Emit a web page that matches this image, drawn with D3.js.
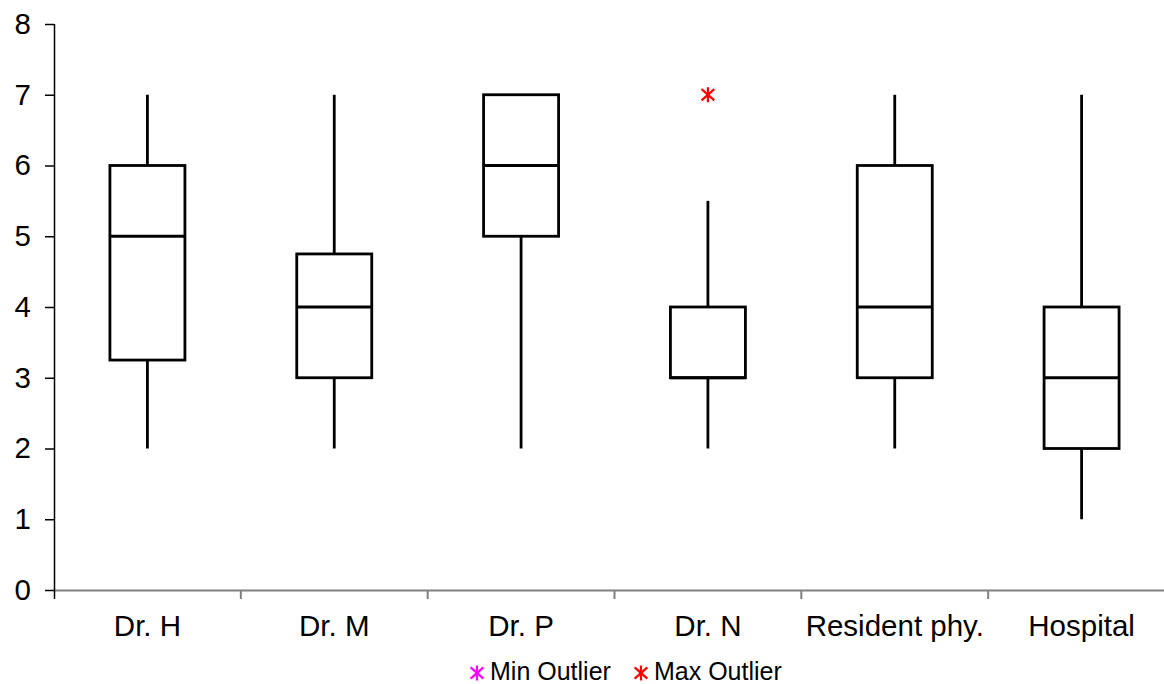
<!DOCTYPE html>
<html>
<head>
<meta charset="utf-8">
<script src="https://cdn.jsdelivr.net/npm/d3@7"></script>
<style>
  html, body { margin: 0; padding: 0; background: #fff; }
  svg { display: block; font-family: "Liberation Sans", Arial, sans-serif; }
</style>
</head>
<body>
<svg id="chart" width="1164" height="684"></svg>
<script>
// Rating distributions per evaluator (box plot five-number summaries)
const categories = ["Dr. H", "Dr. M", "Dr. P", "Dr. N", "Resident phy.", "Hospital"];
const minValues    = [2, 2, 2, 2, 2, 1];
const q1Values     = [3.25, 3, 5, 3, 3, 2];
const medianValues = [5, 4, 6, 3, 4, 3];
const q3Values     = [6, 4.75, 7, 4, 6, 4];
const maxValues    = [7, 7, 7, 5.5, 7, 7];
// Outliers: [category, value]
const maxOutliers = [["Dr. N", 7]];
const minOutliers = [];
const yTicks = [0, 1, 2, 3, 4, 5, 6, 7, 8];
const legendLabels = ["Min Outlier", "Max Outlier"];
const legendColors = ["#ff00ff", "#ff0000"];

const svg = d3.select("#chart");
const plotLeft = 54, plotRight = 1175, plotTop = 24, plotBottom = 590;

const x = d3.scaleBand().domain(categories).range([plotLeft, plotRight]);
const y = d3.scaleLinear().domain([0, 8]).range([plotBottom, plotTop]);

// X axis (gray) with ticks between categories
const xAxis = d3.axisBottom(x).tickSize(0).tickFormat(d => d);
const gx = svg.append("g").attr("transform", `translate(0,${plotBottom})`).call(xAxis);
gx.select(".domain").attr("stroke", "#808080").attr("stroke-width", 2)
  .attr("d", `M${plotLeft},0.5H1164`);
gx.selectAll(".tick text").attr("font-size", 29.5).attr("fill", "#000")
  .attr("dy", 0).attr("y", 46).attr("font-family", "Liberation Sans, Arial, sans-serif");
const bounds = categories.slice(1).map(c => x(c)).concat([plotRight]);
gx.selectAll(".sep").data(bounds).join("line")
  .attr("x1", d => d).attr("x2", d => d).attr("y1", 0).attr("y2", 9)
  .attr("stroke", "#808080").attr("stroke-width", 2);

// Y axis (black)
const yAxis = d3.axisLeft(y).tickValues(yTicks).tickSize(9).tickPadding(14).tickFormat(d3.format("d"));
const gy = svg.append("g").attr("transform", `translate(${plotLeft},0)`).call(yAxis);
gy.select(".domain").attr("stroke", "#000").attr("stroke-width", 1.5)
  .attr("d", `M0.5,${plotTop}V${plotBottom + 9}`);
gy.selectAll(".tick line").attr("stroke", "#000").attr("stroke-width", 1.5);
gy.selectAll(".tick text").attr("font-size", 29.5).attr("fill", "#000")
  .attr("font-family", "Liberation Sans, Arial, sans-serif");

// Boxes
const boxW = 75;
const data = categories.map((c, i) => ({
  c, min: minValues[i], q1: q1Values[i], med: medianValues[i], q3: q3Values[i], max: maxValues[i]
}));
const cx = c => x(c) + x.bandwidth() / 2;
const g = svg.append("g").attr("stroke", "#000").attr("stroke-width", 2.8).attr("fill", "none");
data.forEach(d => {
  const xc = cx(d.c);
  g.append("line").attr("x1", xc).attr("x2", xc).attr("y1", y(d.max)).attr("y2", y(d.q3));
  g.append("line").attr("x1", xc).attr("x2", xc).attr("y1", y(d.q1)).attr("y2", y(d.min));
  g.append("rect").attr("x", xc - boxW / 2).attr("width", boxW)
    .attr("y", y(d.q3)).attr("height", y(d.q1) - y(d.q3)).attr("fill", "#fff");
  g.append("line").attr("x1", xc - boxW / 2).attr("x2", xc + boxW / 2)
    .attr("y1", y(d.med)).attr("y2", y(d.med));
});

// Asterisk marker
function asterisk(sel, px, py, color, r) {
  const a = sel.append("g").attr("stroke", color).attr("stroke-width", 2.2);
  a.append("line").attr("x1", px).attr("x2", px).attr("y1", py - r).attr("y2", py + r);
  a.append("line").attr("x1", px - r * 0.85).attr("x2", px + r * 0.85).attr("y1", py - r * 0.75).attr("y2", py + r * 0.75);
  a.append("line").attr("x1", px - r * 0.85).attr("x2", px + r * 0.85).attr("y1", py + r * 0.75).attr("y2", py - r * 0.75);
}
maxOutliers.forEach(([c, v]) => asterisk(svg, cx(c), y(v), legendColors[1], 7.5));
minOutliers.forEach(([c, v]) => asterisk(svg, cx(c), y(v), legendColors[0], 7.5));

// Legend
const legendX = [477, 641];
legendLabels.forEach((t, i) => {
  asterisk(svg, legendX[i], 673, legendColors[i], 7.5);
  svg.append("text").attr("x", legendX[i] + 13).attr("y", 680)
    .attr("font-size", 25).attr("fill", "#000").text(t);
});
</script>
</body>
</html>
